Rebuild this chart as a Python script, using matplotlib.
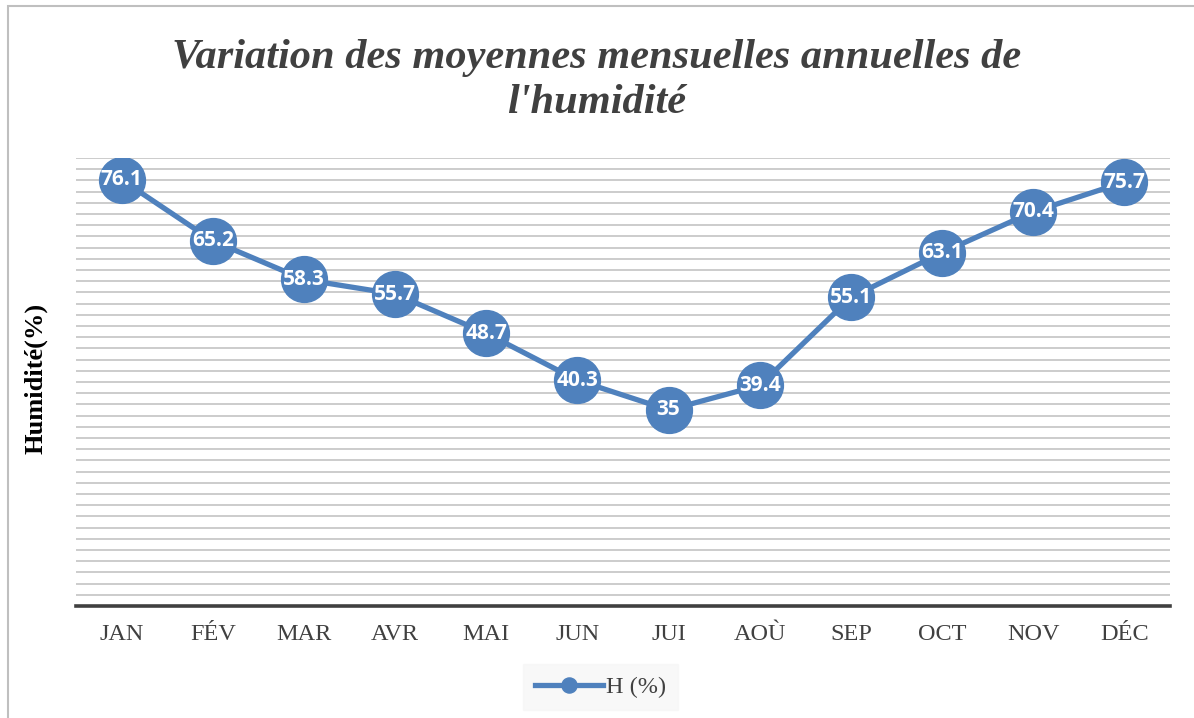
import matplotlib.pyplot as plt
import numpy as np

# data
months = ['JAN', 'FÉV', 'MAR', 'AVR', 'MAI', 'JUN', 'JUI', 'AOÙ', 'SEP', 'OCT', 'NOV', 'DÉC']
humidity = [76.1, 65.2, 58.3, 55.7, 48.7, 40.3, 35, 39.4, 55.1, 63.1, 70.4, 75.7]
grid_levels = list(range(2, 82, 2))

blue = '#4f81bd'
dark = '#404040'

fig = plt.figure(figsize=(11.94, 7.18), dpi=100)
ax = fig.add_axes([0.0637, 0.156, 0.9162, 0.624])

# gray frame around the chart area
fig.patches.append(plt.Rectangle((8 / 1194, -0.01), 1.02, 1 - 6 / 718 + 0.01,
                                 transform=fig.transFigure, fill=False,
                                 edgecolor='#bfbfbf', linewidth=1.5))

x = np.arange(len(months))
for g in grid_levels:
    ax.axhline(g, color='#c8c8c8', linewidth=1.3, zorder=1)

ax.plot(x, humidity, color=blue, linewidth=3.8, marker='o', markersize=33,
        markerfacecolor=blue, markeredgecolor=blue, zorder=3, label='H (%)')

for xi, v in zip(x, humidity):
    ax.text(xi, v, f'{v:g}', ha='center', va='center', color='white',
            fontsize=15, fontweight='bold', family='Open Sans', zorder=4)

ax.set_xlim(-0.5, len(months) - 0.5)
ax.set_ylim(0, 80)
ax.set_xticks(x)
ax.set_xticklabels(months, family='Liberation Serif', fontsize=17.5, color=dark)
ax.set_yticks([])
ax.tick_params(axis='x', length=0, pad=13)
for side in ['top', 'right', 'left']:
    ax.spines[side].set_visible(False)
ax.spines['bottom'].set_color(dark)
ax.spines['bottom'].set_linewidth(2.6)
ax.spines['bottom'].set_zorder(5)

fig.text(0.5, 0.888, "Variation des moyennes mensuelles annuelles de\nl'humidité",
         ha='center', va='center', family='Liberation Serif', fontsize=30.5,
         fontweight='bold', style='italic', color=dark, linespacing=1.25)

fig.text(0.03, 0.473, 'Humidité(%)', rotation=90, ha='center', va='center',
         family='Liberation Serif', fontsize=19, fontweight='bold', color='black')

leg = fig.legend(loc='center', bbox_to_anchor=(0.503, 0.043), frameon=True,
                 prop={'family': 'Liberation Serif', 'size': 17.5},
                 handlelength=2.8, handletextpad=0.1, borderpad=0.5,
                 fancybox=False, markerscale=0.33)
leg.get_frame().set_facecolor('#f7f7f7')
leg.get_frame().set_edgecolor('#f7f7f7')
for t in leg.get_texts():
    t.set_color(dark)

fig.savefig('out.png', dpi=100)
